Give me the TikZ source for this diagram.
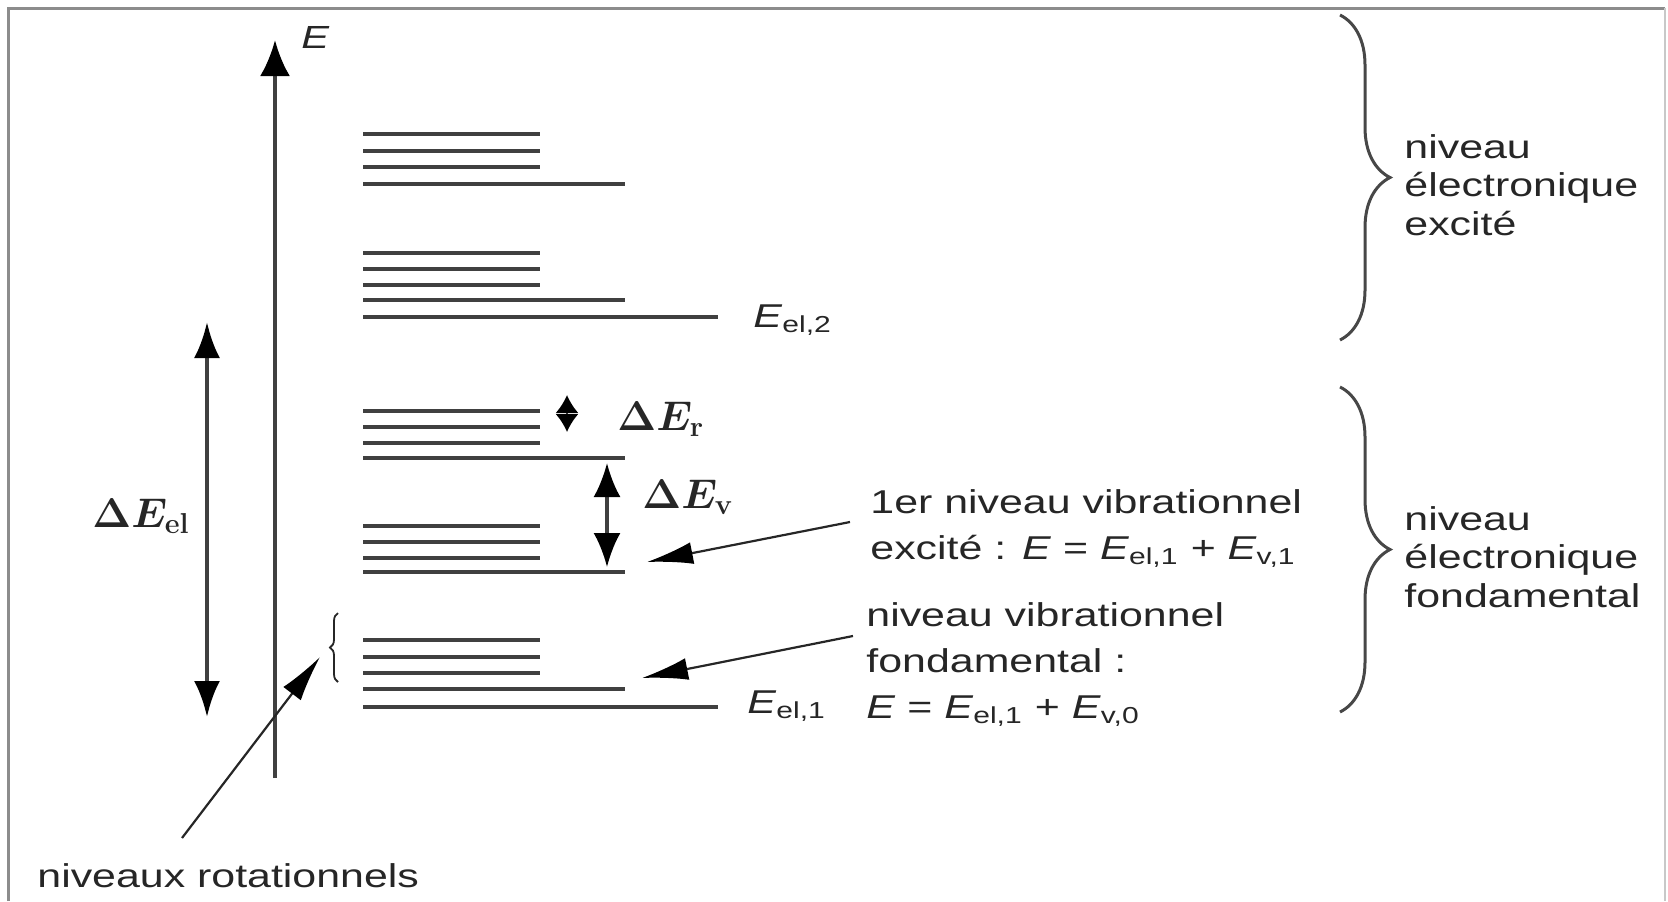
\documentclass[tikz,border=0pt]{standalone}
\usepackage{amsmath}
\usepackage[no-math]{fontspec}
\setmainfont{Liberation Sans}
\usepackage{graphicx}
\usetikzlibrary{arrows.meta,decorations.pathreplacing}

\definecolor{lvl}{HTML}{404040}
\definecolor{ink}{HTML}{262626}
\definecolor{framecol}{HTML}{8C8C8C}
\definecolor{framelight}{HTML}{C8C8C8}

% wide sans lettering used for all labels
\newcommand{\wide}[1]{\scalebox{1.3}[1]{#1}}
\newcommand{\Esub}[1]{\textit{E}\textsubscript{#1}}
\newcommand{\gap}[1]{$\boldsymbol{\Delta E_{\mathrm{#1}}}$}

\begin{document}
\begin{tikzpicture}[x=0.5pt,y=-0.5pt,
  level/.style={draw=lvl,line width=1.6pt},
  txt/.style={inner sep=0pt,anchor=base west,text=ink,font=\fontsize{16.5}{23}\selectfont},
  txtr/.style={txt,font=\fontsize{16.5}{19.25}\selectfont},
  mth/.style={inner sep=0pt,anchor=base west,text=ink,font=\fontsize{22}{26}\selectfont},
  pointer/.style={draw=ink,line width=1.1pt,-{Latex[length=23pt,width=11pt,color=black]}},
  gapbig/.style={draw=lvl,line width=2.2pt,{Latex[length=18pt,width=13pt,color=black]}-{Latex[length=18pt,width=13pt,color=black]}},
  gapvib/.style={draw=lvl,line width=1.6pt,{Latex[length=17pt,width=13.5pt,color=black]}-{Latex[length=17pt,width=13.5pt,color=black]}},
  gaprot/.style={draw=lvl,line width=1pt,{Latex[length=9pt,width=11.5pt,color=black]}-{Latex[length=9pt,width=11.5pt,color=black]}},
  bracebig/.style={draw=ink!85,line width=1.5pt,decorate,decoration={brace,amplitude=25pt}},
  bracesmall/.style={draw=ink,line width=0.9pt,decorate,decoration={brace,amplitude=4pt}}]
\useasboundingbox (0,0) rectangle (1668,901);

% frame
\draw[framecol,line width=1.5pt] (8,901) -- (8,8) -- (1665,8);
\draw[framelight,line width=0.8pt] (1665,8) -- (1665,901);

% energy axis
\coordinate (axb) at (275,778);
\coordinate (axt) at (275,40);
\draw[draw=lvl,line width=2pt,-{Latex[length=18pt,width=15pt,color=black]}] (axb) -- (axt);
\node[txt,font=\fontsize{16}{19}\selectfont] (E) at (301,48) {\wide{\textit{E}}};

% rotational sub-levels
\foreach \y in {134,151,167,253,269,285,411,427,443,526,542,558,640,657,673}
  \draw[level] (363,\y) -- (540,\y);
% vibrational levels
\foreach \y in {184,300,458,572,689}
  \draw[level] (363,\y) -- (625,\y);
% electronic levels
\foreach \y in {317,707}
  \draw[level] (363,\y) -- (718,\y);

\node[txt] (el2) at (753,327) {\wide{\Esub{el,2}}};
\node[txt] (el1) at (747,713) {\wide{\Esub{el,1}}};

% energy gaps
\coordinate (el2t) at (207,322);
\coordinate (el1b) at (207,717);
\draw[gapbig] (el1b) -- (el2t);
\node[mth] (dEel) at (92,527) {\gap{el}};

\coordinate (v1) at (607,463);
\coordinate (v0) at (607,567);
\draw[gapvib] (v0) -- (v1);
\node[mth] (dEv) at (642,508) {\gap{v}};

\coordinate (r1) at (567,395);
\coordinate (r0) at (567,432);
\draw[gaprot] (r0) -- (r1);
\node[mth] (dEr) at (617,430) {\gap{r}};

% annotations of the lower vibrational levels
\node[txt] (vib1) at (870,513) {\wide{\begin{tabular}[t]{@{}l@{}}1er niveau vibrationnel\\excité : \textit{E} = \Esub{el,1} + \Esub{v,1}\end{tabular}}};
\node[txt] (vib0) at (866,626) {\wide{\begin{tabular}[t]{@{}l@{}}niveau vibrationnel\\fondamental :\\\textit{E} = \Esub{el,1} + \Esub{v,0}\end{tabular}}};
\coordinate (p1s) at (850,522);
\coordinate (p1e) at (647,562);
\coordinate (p0s) at (853,636);
\coordinate (p0e) at (642,678);
\draw[pointer] (p1s) -- (p1e);
\draw[pointer] (p0s) -- (p0e);

% rotational levels label
\draw[bracesmall] (338,682) -- (338,613);
\coordinate (rots) at (182,838);
\coordinate (rote) at (320,657);
\draw[pointer] (rots) -- (rote);
\node[txt] (rot) at (37,887) {\wide{niveaux rotationnels}};

% electronic states
\draw[bracebig] (1340,15) -- (1340,340);
\node[txtr] (exc) at (1404,158) {\wide{\begin{tabular}[t]{@{}l@{}}niveau\\électronique\\excité\end{tabular}}};
\draw[bracebig] (1340,387) -- (1340,712);
\node[txtr] (fond) at (1404,530) {\wide{\begin{tabular}[t]{@{}l@{}}niveau\\électronique\\fondamental\end{tabular}}};
\end{tikzpicture}
\end{document}
